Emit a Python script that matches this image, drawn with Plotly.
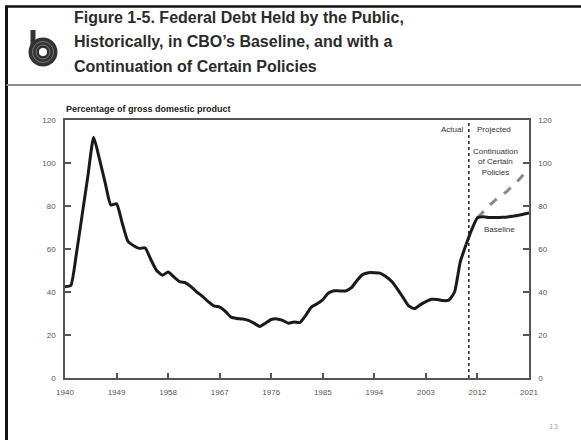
import plotly.graph_objects as go

W, H = 581, 440

hist_years = list(range(1940, 2011))
hist_vals = [42.5, 43, 58, 76, 94, 112, 102, 91, 80.5, 81,
             72, 63.5, 61.5, 60.3, 60.5, 55, 50, 47.8, 49.3, 47,
             44.8, 44.3, 42.5, 40, 38, 35.5, 33.5, 33, 31, 28.3,
             27.7, 27.4, 26.8, 25.5, 24, 25.5, 27.2, 27.5, 26.8, 25.5,
             26, 25.8, 29, 33, 34.5, 36.5, 39.5, 40.6, 40.5, 40.5,
             42, 45.5, 48.2, 49, 49, 48.8, 47.2, 45, 41.5, 37.5,
             33.5, 32.3, 34, 35.5, 36.6, 36.5, 36, 36.2, 40, 54,
             62]
base_years = list(range(2010, 2022))
base_vals = [62, 69, 74.5, 75, 74.7, 74.6, 74.7, 74.8, 75.2, 75.6, 76.2, 76.7]
cont_years = list(range(2012, 2022))
cont_vals = [74.5, 77.5, 80, 82.5, 84.5, 86.5, 89, 91.5, 94.5, 97.5]

x_ticks = [1940, 1949, 1958, 1967, 1976, 1985, 1994, 2003, 2012, 2021]
y_ticks = [0, 20, 40, 60, 80, 100, 120]
split_year = 2010.5

title_lines = ["Figure 1-5. Federal Debt Held by the Public,",
               "Historically, in CBO\u2019s Baseline, and with a",
               "Continuation of Certain Policies"]

def px(x):
    return x / W

def py(y):
    return 1 - y / H

FONT = "Liberation Sans, Arial, sans-serif"
NARROW = "Liberation Sans Narrow, Liberation Sans, Arial, sans-serif"

fig = go.Figure()
fig.add_trace(go.Scatter(x=cont_years, y=cont_vals, mode="lines",
                         line=dict(color="#8a8a8a", width=3, dash="dash"),
                         hoverinfo="skip", showlegend=False))
fig.add_trace(go.Scatter(x=base_years, y=base_vals, mode="lines",
                         line=dict(color="#1a1a1a", width=3, shape="spline", smoothing=0.6),
                         hoverinfo="skip", showlegend=False))
fig.add_trace(go.Scatter(x=hist_years, y=hist_vals, mode="lines",
                         line=dict(color="#1a1a1a", width=3, shape="spline", smoothing=0.5),
                         hoverinfo="skip", showlegend=False))
fig.add_trace(go.Scatter(x=[1940], y=[0], yaxis="y2", mode="lines",
                         line=dict(width=0), hoverinfo="skip", showlegend=False))

axis_col = "#555555"
tick_font = dict(family=NARROW, size=8, color="#555555")

fig.update_layout(
    width=W, height=H,
    margin=dict(l=0, r=0, t=0, b=0, autoexpand=False),
    paper_bgcolor="white", plot_bgcolor="white",
    xaxis=dict(domain=[px(65), px(529)], range=[1940, 2021],
               tickvals=x_ticks, ticktext=[str(v) for v in x_ticks],
               ticks="inside", ticklen=5, tickwidth=1.5, tickcolor=axis_col,
               showline=True, linecolor=axis_col, linewidth=1.5, mirror=True,
               showgrid=False, zeroline=False, tickfont=tick_font,
               ticklabelstandoff=6, fixedrange=True, automargin=False),
    yaxis=dict(domain=[py(378), py(120)], range=[0, 120],
               tickvals=y_ticks, ticks="inside", ticklen=6, tickwidth=1.5,
               tickcolor=axis_col, showline=True, linecolor=axis_col,
               linewidth=1.5, showgrid=False, zeroline=False,
               tickfont=tick_font, ticklabelstandoff=6, fixedrange=True,
               automargin=False),
    yaxis2=dict(overlaying="y", side="right", range=[0, 120],
                tickvals=y_ticks, ticks="inside", ticklen=6, tickwidth=1.5,
                tickcolor=axis_col, showline=True, linecolor=axis_col,
                linewidth=1.5, showgrid=False, zeroline=False,
                tickfont=tick_font, ticklabelstandoff=6, fixedrange=True,
                automargin=False),
)

shapes = [
    dict(type="line", xref="x", yref="y", x0=split_year, x1=split_year, y0=0, y1=120,
         line=dict(color="#222222", width=1.5, dash="dot")),
    dict(type="line", xref="paper", yref="paper", x0=px(5), x1=1, y0=py(6.5), y1=py(6.5),
         line=dict(color="#111111", width=2.5)),
    dict(type="line", xref="paper", yref="paper", x0=px(6.5), x1=px(6.5), y0=py(6), y1=0,
         line=dict(color="#111111", width=3)),
    dict(type="line", xref="paper", yref="paper", x0=px(6.5), x1=1, y0=py(85), y1=py(85),
         line=dict(color="#8c8c8c", width=2)),
    dict(type="rect", xref="paper", yref="paper", x0=px(30.5), x1=px(35.5), y0=py(45), y1=py(30),
         fillcolor="#333333", line=dict(width=0)),
    dict(type="circle", xref="paper", yref="paper", x0=px(28.5), x1=px(57.5), y0=py(66.5), y1=py(37.5),
         fillcolor="#333333", line=dict(width=0)),
    dict(type="circle", xref="paper", yref="paper", x0=px(32.5), x1=px(53.5), y0=py(62.5), y1=py(41.5),
         fillcolor="rgba(0,0,0,0)", line=dict(color="#777777", width=1)),
    dict(type="circle", xref="paper", yref="paper", x0=px(36), x1=px(50), y0=py(59), y1=py(45),
         fillcolor="rgba(0,0,0,0)", line=dict(color="#777777", width=1)),
    dict(type="circle", xref="paper", yref="paper", x0=px(39), x1=px(47), y0=py(56), y1=py(48),
         fillcolor="white", line=dict(width=0)),
]
fig.update_layout(shapes=shapes)

ann = []
for i, t in enumerate(title_lines):
    ann.append(dict(text="<b>" + t + "</b>", xref="paper", yref="paper",
                    x=px(72), y=py(17.5 + 24.3 * i), xanchor="left", yanchor="middle",
                    showarrow=False, font=dict(family=FONT, size=16, color="#2b2b2b")))
ann.append(dict(text="<b>Percentage of gross domestic product</b>", xref="paper", yref="paper",
                x=px(64), y=py(109), xanchor="left", yanchor="middle", showarrow=False,
                font=dict(family=FONT, size=9, color="#222222")))
small = dict(family=NARROW, size=8, color="#333333")
ann.append(dict(text="Actual", xref="x", yref="y", x=split_year, y=115.8, xanchor="right",
                yanchor="middle", xshift=-4, showarrow=False, font=small))
ann.append(dict(text="Projected", xref="x", yref="y", x=split_year, y=115.8, xanchor="left",
                yanchor="middle", xshift=6, showarrow=False, font=small))
ann.append(dict(text="Continuation<br>of Certain<br>Policies", xref="x", yref="y", x=2015.1, y=100.5,
                xanchor="center", yanchor="middle", showarrow=False, font=small, align="center"))
ann.append(dict(text="Baseline", xref="x", yref="y", x=2015.9, y=69.3, xanchor="center",
                yanchor="middle", showarrow=False, font=small))
ann.append(dict(text="13", xref="paper", yref="paper", x=px(553), y=py(426), xanchor="center",
                yanchor="middle", showarrow=False, font=dict(family=FONT, size=8, color="#aaaaaa")))
fig.update_layout(annotations=ann)

fig.write_html("out.html", config={"displayModeBar": False},
               post_script="document.body.style.margin='0';document.body.style.overflow='hidden';")
